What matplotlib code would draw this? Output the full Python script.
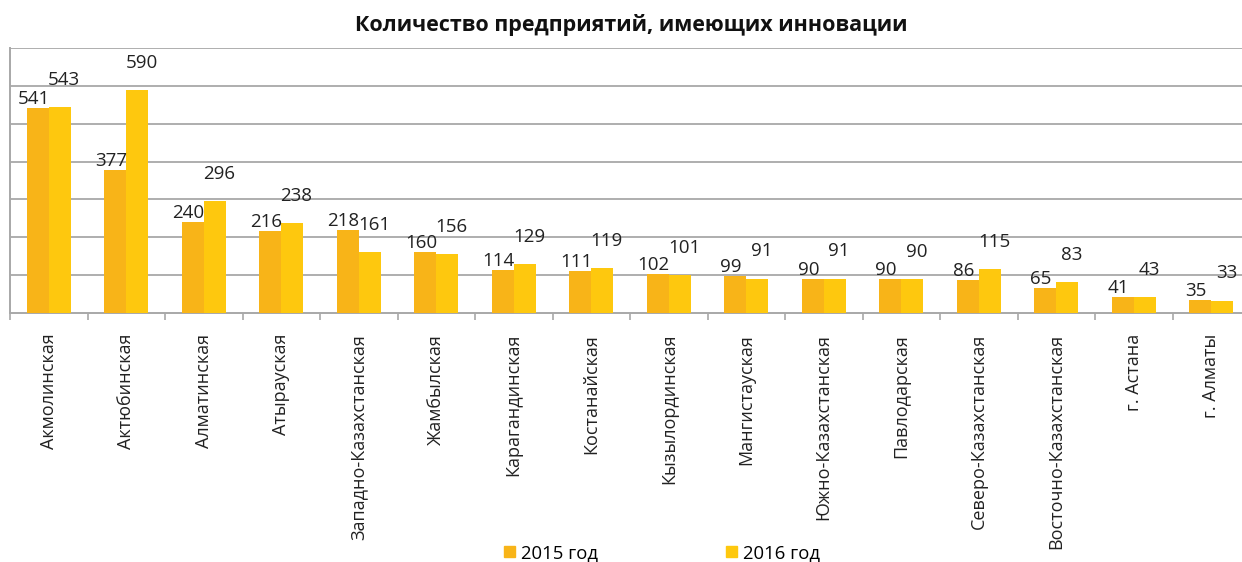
import matplotlib
matplotlib.use("Agg")
import matplotlib.pyplot as plt
from matplotlib.patches import Patch
import numpy as np

plt.rcParams['font.family'] = ['Open Sans', 'DejaVu Sans']

regions = ["Акмолинская", "Актюбинская", "Алматинская", "Атырауская",
           "Западно-Казахстанская", "Жамбылская", "Карагандинская", "Костанайская",
           "Кызылординская", "Мангистауская", "Южно-Казахстанская", "Павлодарская",
           "Северо-Казахстанская", "Восточно-Казахстанская", "г. Астана", "г. Алматы"]
values_2015 = [541, 377, 240, 216, 218, 160, 114, 111, 102, 99, 90, 90, 86, 65, 41, 35]
values_2016 = [543, 590, 296, 238, 161, 156, 129, 119, 101, 91, 91, 90, 115, 83, 43, 33]
series_names = ["2015 год", "2016 год"]
title = "Количество предприятий, имеющих инновации"

c2015 = "#F8B418"
c2016 = "#FEC80E"
grid_c = "#A8A8A8"

fig = plt.figure(figsize=(12.42, 5.62), dpi=100)
ax = fig.add_axes([10 / 1242, 1 - 313 / 562, 1240 / 1242, 265 / 562])

x = np.arange(len(regions))
w = 0.285
ax.bar(x - w / 2, values_2015, w, color=c2015, zorder=3)
ax.bar(x + w / 2, values_2016, w, color=c2016, zorder=3)

for xi, v in zip(x, values_2015):
    ax.annotate(str(v), (xi - w / 2, v), xytext=(-3, 0), textcoords="offset points",
                ha="center", va="bottom", fontsize=13.5, color="#222222")
for xi, v in zip(x, values_2016):
    ax.annotate(str(v), (xi + w / 2, v), xytext=(3, 13), textcoords="offset points",
                ha="center", va="bottom", fontsize=13.5, color="#222222")

ax.set_xlim(-0.5, len(regions) - 0.5)
ax.set_ylim(0, 700)
ax.set_yticks(np.arange(100, 701, 100))
ax.yaxis.grid(True, color=grid_c, linewidth=1.3, zorder=0)
ax.tick_params(axis="y", length=0, labelleft=False)

ax.set_xticks(x)
ax.set_xticklabels(regions, rotation=90, fontsize=13, color="#222222")
ax.set_xticks(np.arange(-0.5, len(regions), 1), minor=True)
ax.tick_params(axis="x", which="major", length=0, pad=15)
ax.tick_params(axis="x", which="minor", length=5, width=1.2, color=grid_c, direction="out")

for s in ["top", "right"]:
    ax.spines[s].set_visible(False)
for s in ["left", "bottom"]:
    ax.spines[s].set_color(grid_c)
    ax.spines[s].set_linewidth(1.4)

fig.text(0.508, 1 - 25 / 562, title, ha="center", va="center",
         fontsize=15.5, fontweight="bold", color="#111111")

handles = [Patch(color=c2015), Patch(color=c2016)]
fig.legend(handles, series_names, loc="center", bbox_to_anchor=(0.533, 1 - 553 / 562),
           ncol=2, frameon=False, fontsize=13.3, handlelength=0.6, handleheight=0.6,
           handletextpad=0.35, columnspacing=6.9)

fig.savefig("out.png", dpi=100)
